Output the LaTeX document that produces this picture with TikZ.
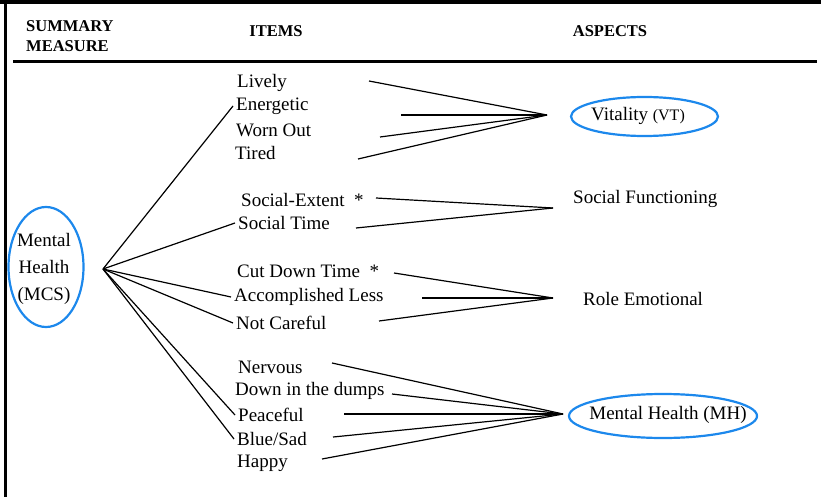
\documentclass[tikz,border=0pt]{standalone}
\usepackage{fontspec}
\setmainfont{LiberationSerif}[Extension=.ttf,UprightFont=*-Regular,BoldFont=*-Bold,ItalicFont=*-Italic,BoldItalicFont=*-BoldItalic]
\usetikzlibrary{positioning}
\definecolor{ringblue}{RGB}{28,136,236}

\begin{document}
\begin{tikzpicture}[x=1pt,y=-1pt]
		  \tikzset{
			head/.style={font=\bfseries\fontsize{16.5}{20}\selectfont,inner sep=0pt},
			item/.style={anchor=west,inner xsep=3pt,inner ysep=1pt,font=\fontsize{19}{23}\selectfont},
			aspect/.style={inner sep=0pt,font=\fontsize{19}{23}\selectfont},
			ring/.style={draw=ringblue,line width=2.2pt},
			link/.style={line width=1.2pt,black},
		  }
		  \useasboundingbox (0,0) rectangle (821,497);
		  %FRAME
		  \draw[line width=3.5pt] (0,2) -- (821,2);
		  \draw[line width=3.5pt] (5.5,0) -- (5.5,497);
		  %HEADER
		  \node[head,anchor=west,align=left] (summary) at (26,36) {SUMMARY\\MEASURE};
		  \node[head] (items) at (276,31) {ITEMS};
		  \node[head] (aspects) at (610,31) {ASPECTS};
		  \draw[line width=2.8pt] (13,61.5) -- (817,61.5);

		  %SUMMARY MEASURE
		  \node[aspect,align=center,font=\fontsize{19}{27}\selectfont] (mcs) at (44,269) {Mental\\Health\\(MCS)};
		  \draw[ring] (46,267) ellipse [x radius=37.5,y radius=60];
		  \coordinate (hubMCS) at (103,269);

		  %ITEMS
		  \foreach \x/\y/\n/\t in {234/83/lively/Lively,233/106/energetic/Energetic,233/130/wornout/Worn Out,232/153/tired/Tired,
			238/200/socext/Social-Extent\enspace*,235/223/soctime/Social Time,234/271/cutdown/Cut Down Time\enspace*,
			231/297/accless/Accomplished Less,233/323/notcareful/Not Careful,235/367/nervous/Nervous,
			232/391/dumps/Down in the dumps,235/415/peaceful/Peaceful,234/439/bluesad/{Blue/Sad},234/463/happy/Happy}{
		  \node[item] (\n) at (\x,\y) {\t};
		  }

		  %ASPECTS
		  \node[aspect] (vt) at (638,116) {Vitality \fontsize{16}{20}\selectfont(VT)};
		  \draw[ring] (644.5,116.5) ellipse [x radius=73.5,y radius=19.5];
		  \node[aspect,anchor=west] (sf) at (573,199) {Social Functioning};
		  \node[aspect,anchor=west] (re) at (583,299) {Role Emotional};
		  \node[aspect] (mh) at (668,415) {Mental Health (MH)};
		  \draw[ring] (663,416) ellipse [x radius=94,y radius=22];

		  %LINKS MCS
		  \foreach \n in {energetic,soctime,accless,notcareful,peaceful,bluesad}{
		  \draw[link] (hubMCS) -- (\n.west);
		  }

		  %HUBS
		  \coordinate (hubVT) at (547,115);
		  \coordinate (hubSF) at (553,208);
		  \coordinate (hubRE) at (553,298);
		  \coordinate (hubMH) at (563,414);

		  %LINKS VITALITY
		  \foreach \x/\y/\n in {369/81/lively,401/115/energetic,380/137/wornout,358/159/tired}{
		  \coordinate (\n-r) at (\x,\y);
		  \draw[link] (\n-r) -- (hubVT);
		  }
		  %LINKS SOCIAL FUNCTIONING
		  \foreach \x/\y/\n in {376/198/socext,356/228/soctime}{
		  \coordinate (\n-r) at (\x,\y);
		  \draw[link] (\n-r) -- (hubSF);
		  }
		  %LINKS ROLE EMOTIONAL
		  \foreach \x/\y/\n in {394/273/cutdown,422/298/accless,379/321/notcareful}{
		  \coordinate (\n-r) at (\x,\y);
		  \draw[link] (\n-r) -- (hubRE);
		  }
		  %LINKS MENTAL HEALTH
		  \foreach \x/\y/\n in {332/363/nervous,392/394/dumps,344/414/peaceful,333/437/bluesad,322/459/happy}{
		  \coordinate (\n-r) at (\x,\y);
		  \draw[link] (\n-r) -- (hubMH);
		  }
\end{tikzpicture}
\end{document}
